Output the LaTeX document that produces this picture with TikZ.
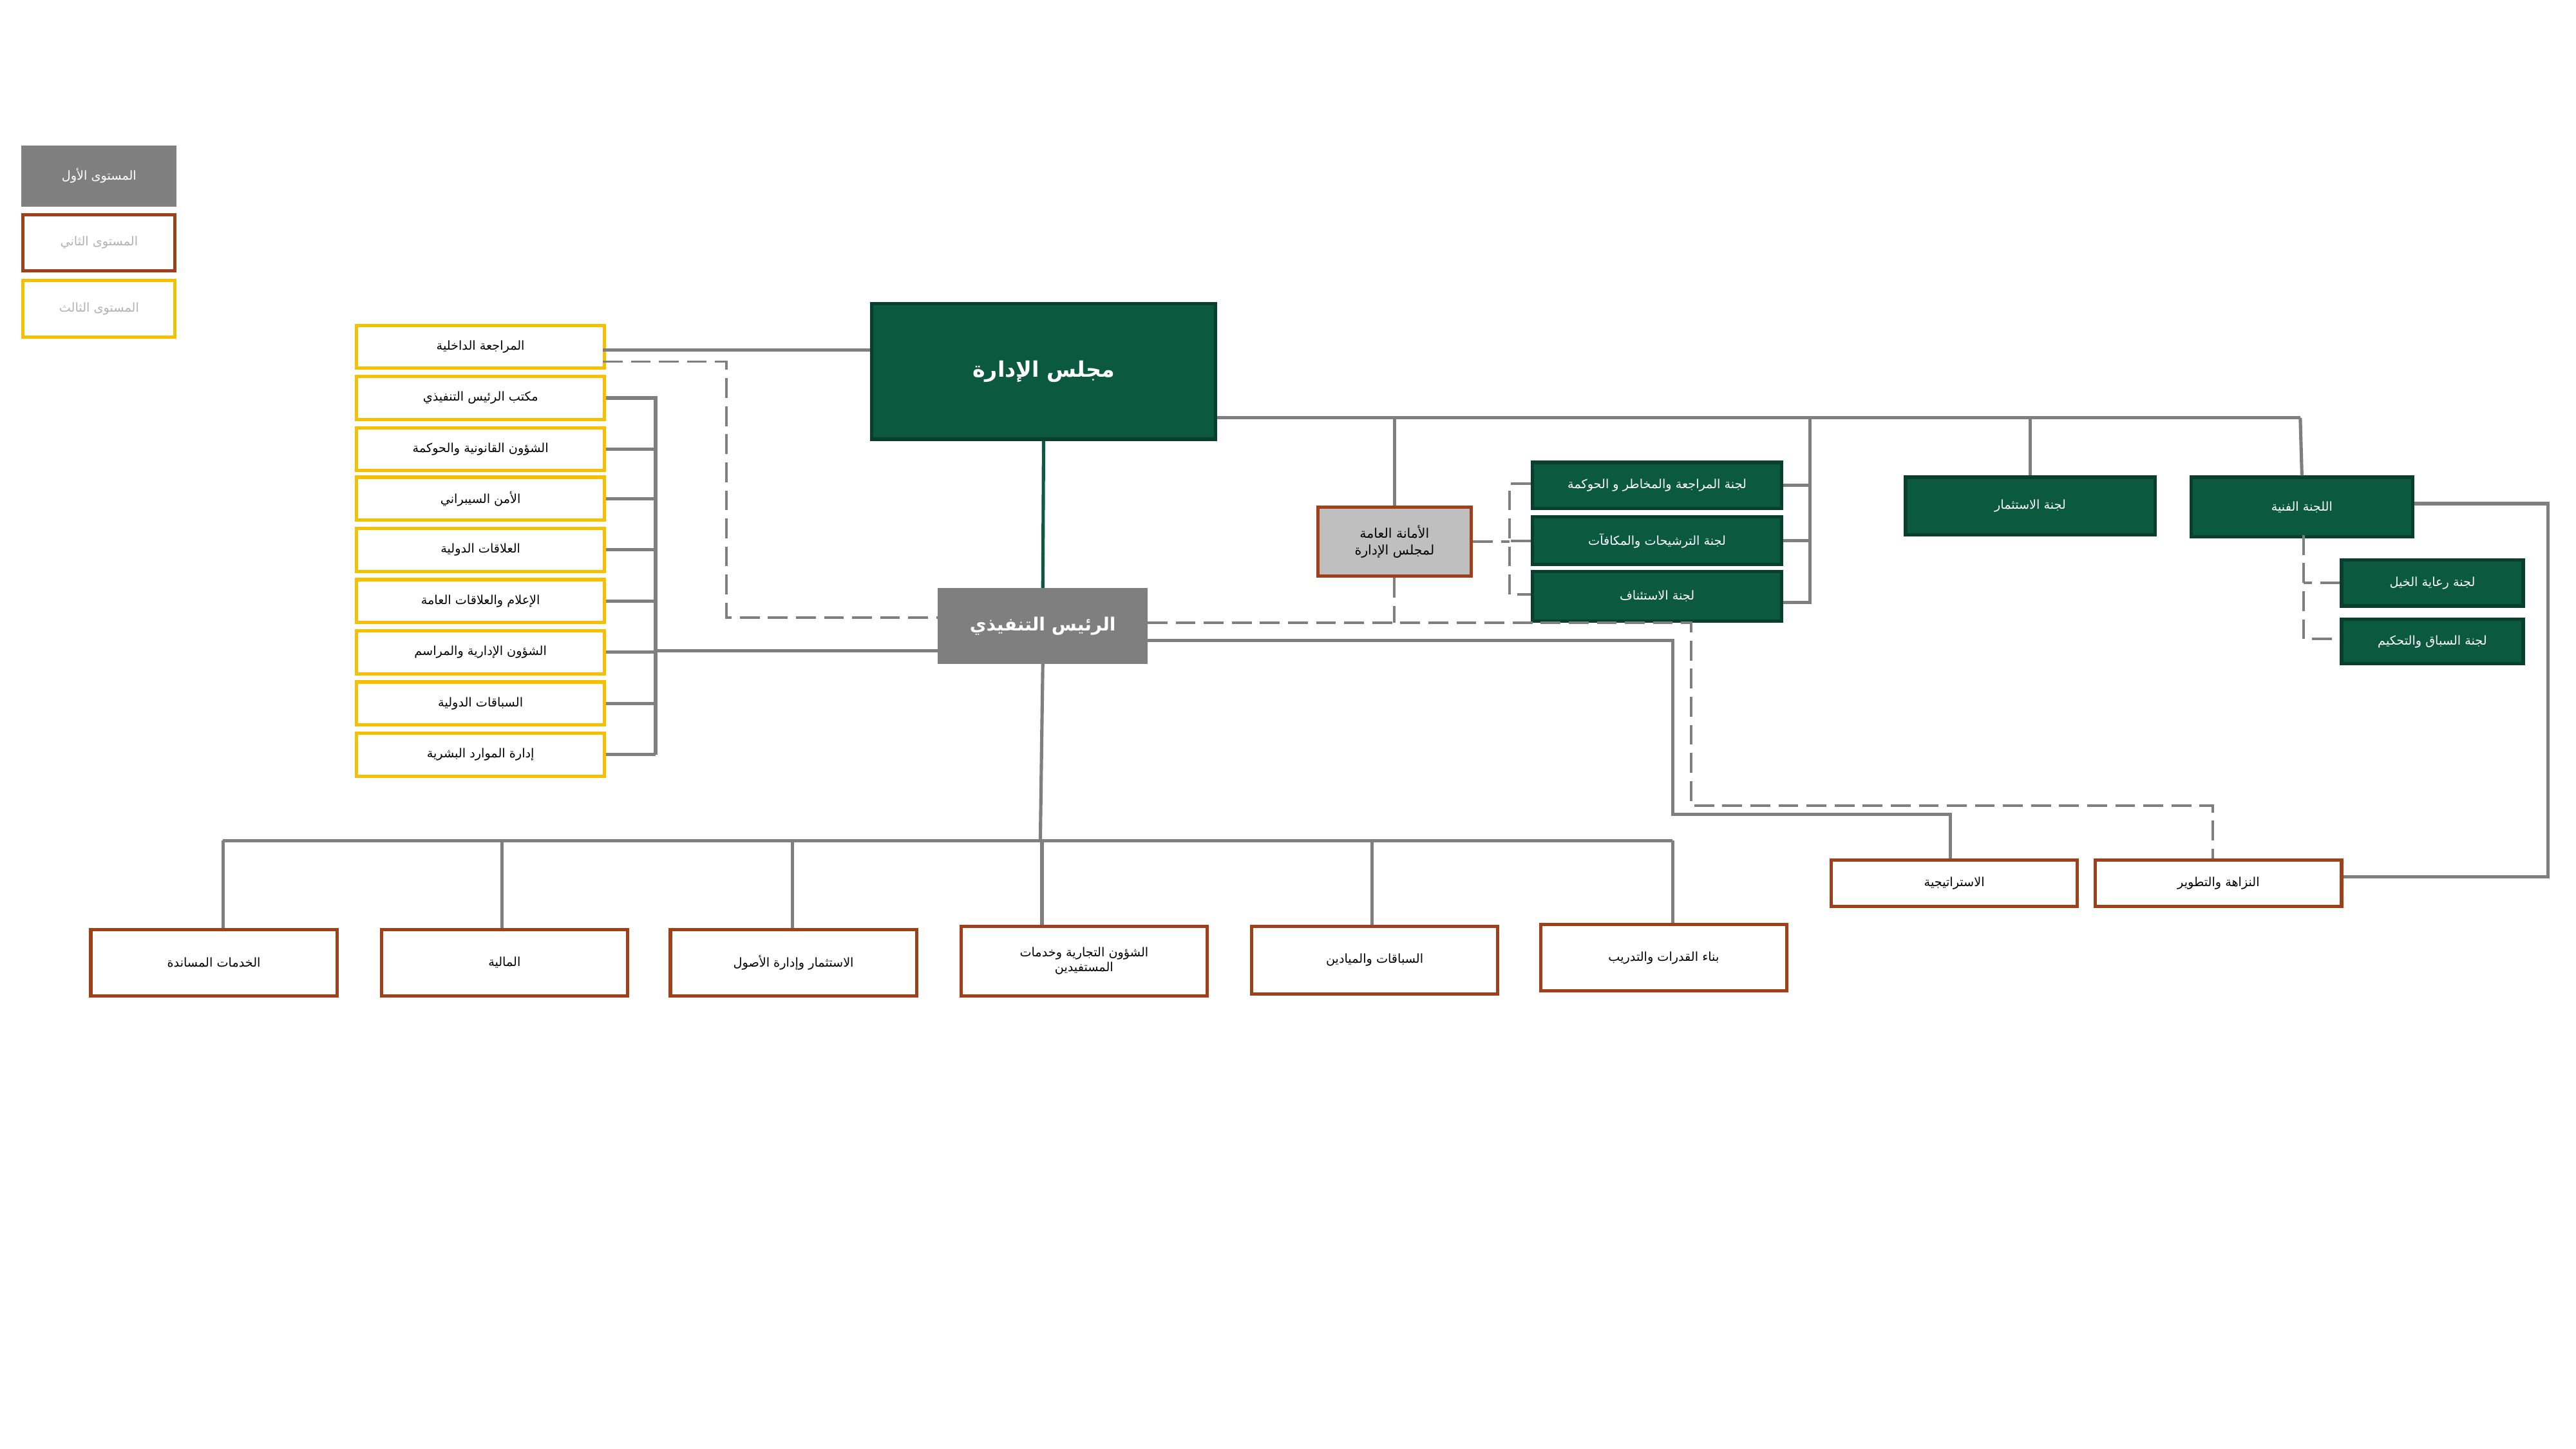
\documentclass[tikz,border=0pt]{standalone}
\usepackage{fontspec}
\newfontfamily\arfont[Script=Arabic]{DejaVu Sans}
\TeXXeTstate=1
\newcommand\AR[1]{{\arfont\beginR #1\endR}}
\definecolor{gline}{HTML}{7F7F7F}
\definecolor{dgreen}{HTML}{0B5A40}
\definecolor{orng}{HTML}{A0401A}
\definecolor{yel}{HTML}{F5C000}
\begin{document}
\begin{tikzpicture}[x=1pt,y=-1pt,
 bx/.style={draw,line width=2pt,anchor=north west,inner sep=0pt,align=center,font=\fontsize{7.5}{9}\selectfont},
 yb/.style={bx,draw=yel,fill=white,minimum width=150pt,minimum height=26pt},
 ob/.style={bx,draw=orng,fill=white,minimum width=149pt,minimum height=40pt},
 gb/.style={bx,draw=dgreen!70!black,fill=dgreen,text=white},
 ln/.style={draw=gline,line width=2pt},
 dl/.style={draw=gline,line width=1.5pt,dash pattern=on 12pt off 5pt}]
\useasboundingbox (0,0) rectangle (1560,877.5);
% legend
\node[bx,draw=gray,fill=gline,text=white,minimum width=92pt,minimum height=35pt] (l1) at (13,88) {\AR{المستوى الأول}};
\node[bx,draw=orng,text=gray!60,minimum width=92pt,minimum height=34pt] (l2) at (13,129) {\AR{المستوى الثاني}};
\node[bx,draw=yel,text=gray!60,minimum width=92pt,minimum height=34pt] (l3) at (13,169) {\AR{المستوى الثالث}};
% main
\node[gb,minimum width=208pt,minimum height=82pt,font=\fontsize{13}{15}\bfseries\selectfont] (board) at (527,183) {\AR{مجلس الإدارة}};
\node[bx,draw=gline,fill=gline,text=white,minimum width=125pt,minimum height=44pt,font=\fontsize{11}{13}\bfseries\selectfont] (ceo) at (568,356) {\AR{الرئيس التنفيذي}};
\draw[draw=dgreen,line width=2pt] (board.south) -- (ceo.north);
% left yellow
\foreach \n/\y/\t in {y1/196/المراجعة الداخلية,y2/227/مكتب الرئيس التنفيذي,y3/258/الشؤون القانونية والحوكمة,y4/288/الأمن السيبراني,y5/319/العلاقات الدولية,y6/350/الإعلام والعلاقات العامة,y7/381/الشؤون الإدارية والمراسم,y8/412/السباقات الدولية,y9/443/إدارة الموارد البشرية}
 \node[yb] (\n) at (215,\y) {\AR{\t}};
\coordinate (ya) at (365,212);
\draw[ln] (ya) -- (board.west|-ya);
\coordinate (yd1) at (365,219); \coordinate (yd2) at (440,219); \coordinate (yd3) at (440,374);
\draw[dl] (yd1) -- (yd2) -- (yd3) -- (ceo.west|-yd3);
\coordinate (bt) at (397,240); \coordinate (bb) at (397,457);
\draw[ln] (bt) -- (bb);
\foreach \n in {y2,y3,y4,y5,y6,y7,y8,y9} \draw[ln] (\n.east) -- (\n.east-|bt);
\coordinate (yc) at (397,394);
\draw[ln] (yc) -- (ceo.west|-yc);
% board right
\coordinate (br) at (1393,253);
\draw[ln] (board.east|-br) -- (br);
\node[bx,draw=orng,fill=gray!50,minimum width=93pt,minimum height=42pt,font=\fontsize{8}{10}\selectfont] (sec) at (797,306) {\AR{الأمانة العامة}\\\AR{لمجلس الإدارة}};
\draw[ln] (sec.north|-br) -- (sec.north);
\node[gb,minimum width=151pt,minimum height=28pt] (c1) at (927,279) {\AR{لجنة المراجعة والمخاطر و الحوكمة}};
\node[gb,minimum width=151pt,minimum height=29pt] (c2) at (927,312) {\AR{لجنة الترشيحات والمكافآت}};
\node[gb,minimum width=151pt,minimum height=30pt] (c3) at (927,345) {\AR{لجنة الاستئناف}};
\coordinate (ct) at (1096,253); \coordinate (cb) at (1096,365);
\draw[ln] (ct) -- (cb) -- (c3.east|-cb);
\draw[ln] (c1.east) -- (c1.east-|ct); \draw[ln] (c2.east) -- (c2.east-|ct);
\coordinate (dx1) at (914,293); \coordinate (dx2) at (914,360);
\draw[dl] (sec.east) -- (sec.east-|dx1);
\draw[dl] (c1.west|-dx1) -- (dx1) -- (dx2) -- (c3.west|-dx2);
\draw[dl] (c2.west) -- (c2.west-|dx1);
\node[gb,minimum width=151pt,minimum height=35pt] (inv) at (1153,288) {\AR{لجنة الاستثمار}};
\node[gb,minimum width=134pt,minimum height=36pt] (tec) at (1326,288) {\AR{اللجنة الفنية}};
\draw[ln] (inv.north|-br) -- (inv.north);
\draw[ln] (br) -- (tec.north);
\node[gb,minimum width=110pt,minimum height=28pt] (s1) at (1417,338) {\AR{لجنة رعاية الخيل}};
\node[gb,minimum width=110pt,minimum height=27pt] (s2) at (1417,374) {\AR{لجنة السباق والتحكيم}};
\coordinate (sd1) at (1395,324); \coordinate (sd2) at (1395,387);
\draw[dl] (sd1) -- (sd2) -- (s2.west|-sd2);
\draw[dl] (s1.west) -- (s1.west-|sd1);
% right orange
\node[ob,minimum height=28pt] (str) at (1108,520) {\AR{الاستراتيجية}};
\node[ob,minimum height=28pt] (int) at (1268,520) {\AR{النزاهة والتطوير}};
\coordinate (t1) at (1543,305); \coordinate (t2) at (1543,531);
\draw[ln] (tec.east|-t1) -- (t1) -- (t2) -- (int.east|-t2);
\coordinate (r1) at (1013,388); \coordinate (r2) at (1013,493); \coordinate (r3) at (1181,493);
\draw[ln] (ceo.east|-r1) -- (r1) -- (r2) -- (r3) -- (r3|-str.north);
\coordinate (q1) at (1024,377); \coordinate (q2) at (1024,488); \coordinate (q3) at (1340,488);
\draw[dl] (ceo.east|-q1) -- (q1) -- (q2) -- (q3) -- (q3|-int.north);
\draw[dl] (sec.south) -- (sec.south|-q1);
% bottom
\node[ob] (b1) at (54,562) {\AR{الخدمات المساندة}};
\node[ob] (b2) at (230,562) {\AR{المالية}};
\node[ob] (b3) at (405,562) {\AR{الاستثمار وإدارة الأصول}};
\node[ob,minimum height=42pt] (b4) at (581,560) {\AR{الشؤون التجارية وخدمات}\\\AR{المستفيدين}};
\node[ob,minimum height=41pt] (b5) at (757,560) {\AR{السباقات والميادين}};
\node[ob] (b6) at (932,559) {\AR{بناء القدرات والتدريب}};
\coordinate (h0) at (630,509); \coordinate (hl) at (135,509); \coordinate (hr) at (1013,509);
\draw[ln] (ceo.south) -- (h0);
\draw[ln] (hl) -- (hr);
\foreach \n/\x in {b1/135,b2/304,b3/480,b4/631,b5/831,b6/1013} \draw[ln] (\x,509) -- (\x,0|-\n.north);
\end{tikzpicture}
\end{document}
